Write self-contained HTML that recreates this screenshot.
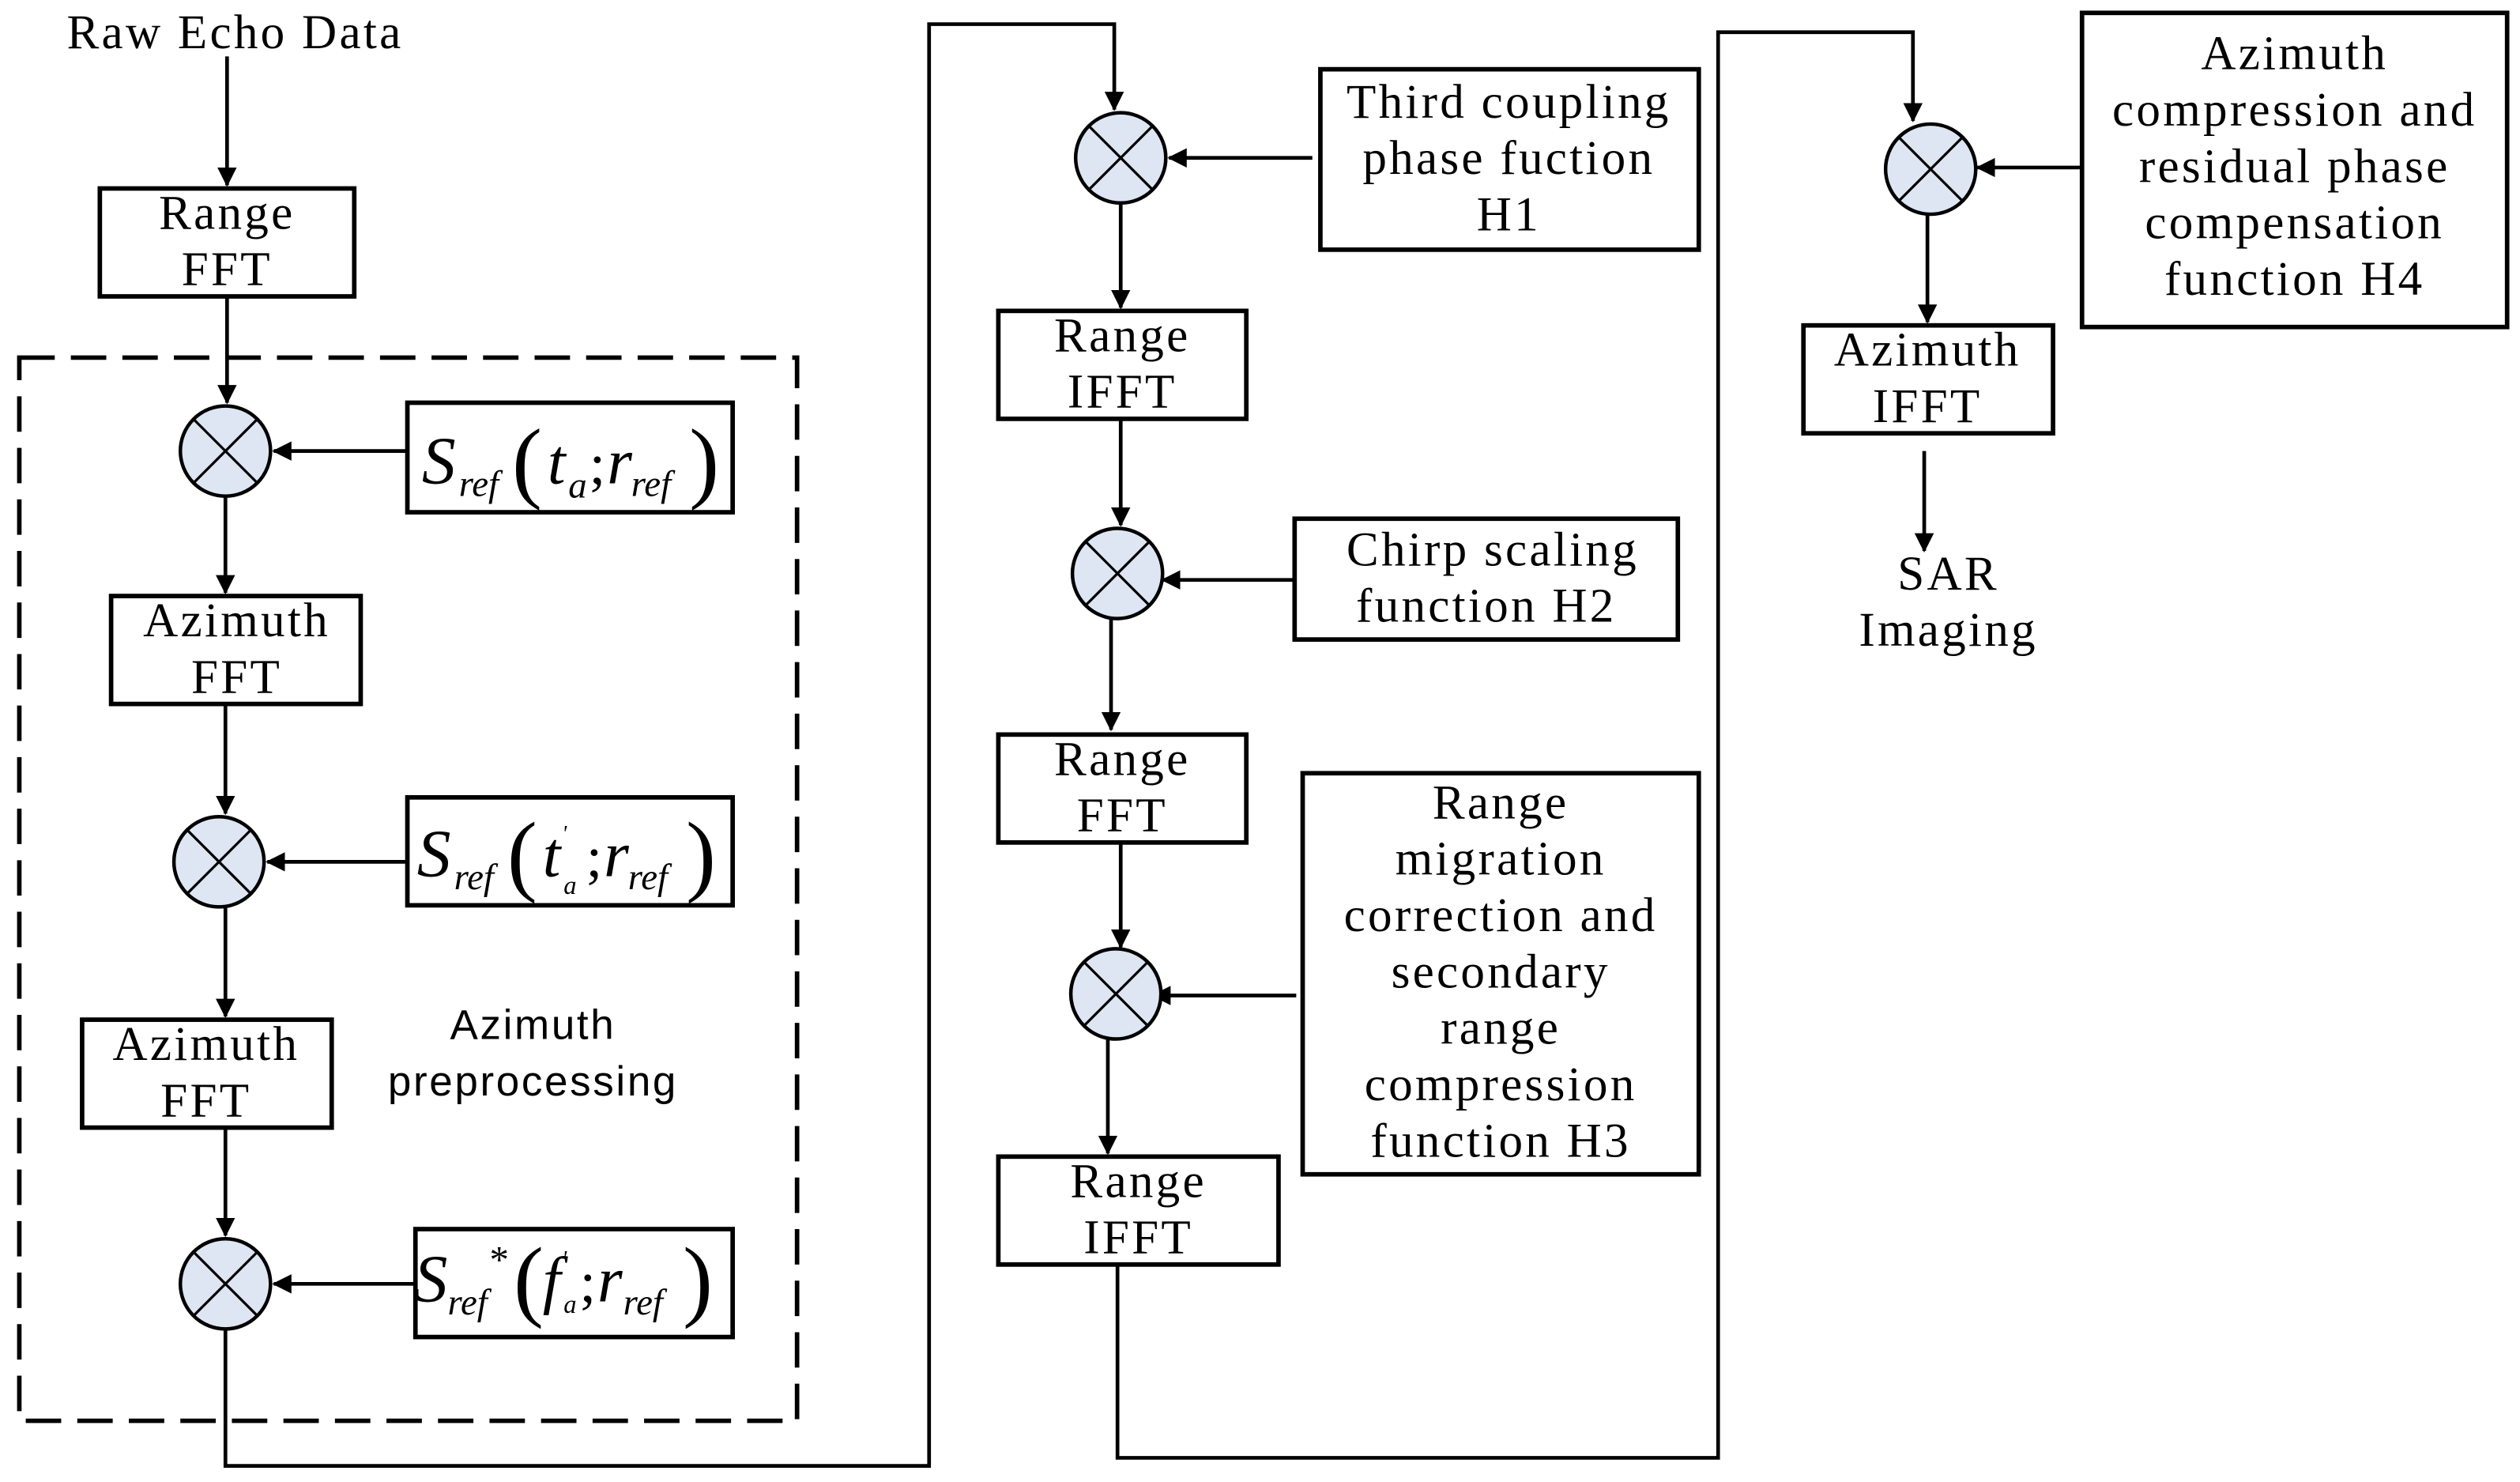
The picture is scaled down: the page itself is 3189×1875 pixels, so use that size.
<!DOCTYPE html>
<html><head><meta charset="utf-8"><style>html,body{margin:0;padding:0;background:#fff}svg{display:block}</style></head>
<body>
<svg width="3189" height="1875" viewBox="0 0 1565 920" preserveAspectRatio="none" xmlns="http://www.w3.org/2000/svg">
<defs>
<marker id="a" markerWidth="12" markerHeight="12" refX="11" refY="6" orient="auto" markerUnits="userSpaceOnUse" viewBox="0 0 12 12">
<path d="M0,0 L12,6 L0,12 z" fill="#000"/></marker>
<g id="m"><circle r="28" fill="#dde6f2" stroke="#000" stroke-width="2.2"/><path d="M-19.8,-19.8 L19.8,19.8 M-19.8,19.8 L19.8,-19.8" stroke="#000" stroke-width="1.6"/></g>
</defs>
<g font-family="Liberation Serif, serif" font-size="30" letter-spacing="1.6" text-anchor="middle" fill="#000">
<text x="146" y="30">Raw Echo Data</text>
<g stroke="#000" stroke-width="2.8" fill="none">
<rect x="62" y="117" width="158" height="67"/>
<rect x="69" y="370" width="155" height="67"/>
<rect x="51" y="633" width="155" height="67"/>
<rect x="253" y="250" width="202" height="68"/>
<rect x="253" y="495" width="202" height="67"/>
<rect x="258" y="763" width="197" height="67"/>
<rect x="12" y="222" width="483" height="660" stroke-dasharray="22,10"/>
<rect x="820" y="43" width="235" height="112"/>
<rect x="620" y="193" width="154" height="67"/>
<rect x="804" y="322" width="238" height="75"/>
<rect x="620" y="456" width="154" height="67"/>
<rect x="809" y="480" width="246" height="249"/>
<rect x="620" y="718" width="174" height="67"/>
<rect x="1293" y="8" width="264" height="195"/>
<rect x="1120" y="202" width="155" height="67"/>
</g>
<g stroke="#000" stroke-width="2.3" fill="none" marker-end="url(#a)">
<path d="M141,35 V115"/><path d="M141,184 V250"/><path d="M253,280 H170"/>
<path d="M140,308 V368"/><path d="M140,437 V505"/><path d="M253,535 H166"/>
<path d="M140,563 V631"/><path d="M140,700 V767"/><path d="M258,797 H170"/>
<path d="M140,825 V910 H577 V15 H692 V68"/>
<path d="M815,98 H726"/><path d="M696,126 V191"/><path d="M696,260 V326"/>
<path d="M804,360 H722"/><path d="M690,384 V453"/><path d="M696,523 V588"/>
<path d="M805,618 H716"/><path d="M688,645 V716"/>
<path d="M694,785 V905 H1067 V20 H1188 V75"/>
<path d="M1293,104 H1228"/><path d="M1197,132 V200"/><path d="M1195,280 V342"/>
</g>
<use href="#m" x="140" y="280"/><use href="#m" x="136" y="535"/><use href="#m" x="140" y="797"/>
<use href="#m" x="696" y="98"/><use href="#m" x="694" y="356"/><use href="#m" x="693" y="617"/>
<use href="#m" x="1199" y="105"/>
<text x="141" y="142">Range</text><text x="141" y="177">FFT</text>
<text x="147" y="395">Azimuth</text><text x="147" y="430">FFT</text>
<text x="128" y="658">Azimuth</text><text x="128" y="693">FFT</text>
<text x="937" y="73">Third coupling</text><text x="937" y="108">phase fuction</text><text x="937" y="143">H1</text>
<text x="697" y="218">Range</text><text x="697" y="253">IFFT</text>
<text x="927" y="351">Chirp scaling</text><text x="923" y="386">function H2</text>
<text x="697" y="481">Range</text><text x="697" y="516">FFT</text>
<text x="932" y="508">Range</text><text x="932" y="543">migration</text><text x="932" y="578">correction and</text><text x="932" y="613">secondary</text><text x="932" y="648">range</text><text x="932" y="683">compression</text><text x="932" y="718">function H3</text>
<text x="707" y="743">Range</text><text x="707" y="778">IFFT</text>
<text x="1425" y="43">Azimuth</text><text x="1425" y="78">compression and</text><text x="1425" y="113">residual phase</text><text x="1425" y="148">compensation</text><text x="1425" y="183">function H4</text>
<text x="1197" y="227">Azimuth</text><text x="1197" y="262">IFFT</text>
<text x="1210" y="366">SAR</text><text x="1210" y="401">Imaging</text>
<g font-family="Liberation Sans, sans-serif" font-size="26" letter-spacing="1.3"><text x="331" y="645">Azimuth</text><text x="331" y="680">preprocessing</text></g>
<g text-anchor="start" font-style="italic" letter-spacing="0">
<text x="262" y="300" font-size="42">S</text><text x="285" y="308" font-size="23">ref</text>
<text x="318" y="305" font-size="56" font-style="normal">(</text><text x="340" y="300" font-size="40">t</text><text x="353" y="309" font-size="23">a</text><text x="366" y="300" font-size="36" font-style="normal">;</text><text x="377" y="300" font-size="40">r</text><text x="392" y="308" font-size="23">ref</text><text x="428" y="305" font-size="56" font-style="normal">)</text>
<text x="259" y="544" font-size="42">S</text><text x="282" y="552" font-size="23">ref</text>
<text x="315" y="549" font-size="56" font-style="normal">(</text><text x="337" y="544" font-size="40">t</text><text x="349" y="522" font-size="14">'</text><text x="350" y="555" font-size="16">a</text><text x="364" y="544" font-size="36" font-style="normal">;</text><text x="375" y="544" font-size="40">r</text><text x="390" y="552" font-size="23">ref</text><text x="426" y="549" font-size="56" font-style="normal">)</text>
<text x="257" y="808" font-size="42">S</text><text x="278" y="816" font-size="23">ref</text><text x="304" y="790" font-size="24" font-style="normal">*</text>
<text x="319" y="813" font-size="56" font-style="normal">(</text><text x="337" y="808" font-size="40">f</text><text x="349" y="786" font-size="14">'</text><text x="350" y="815" font-size="16">a</text><text x="360" y="808" font-size="36" font-style="normal">;</text><text x="371" y="808" font-size="40">r</text><text x="387" y="816" font-size="23">ref</text><text x="424" y="813" font-size="56" font-style="normal">)</text>
</g>
</g>
</svg>
</body></html>
